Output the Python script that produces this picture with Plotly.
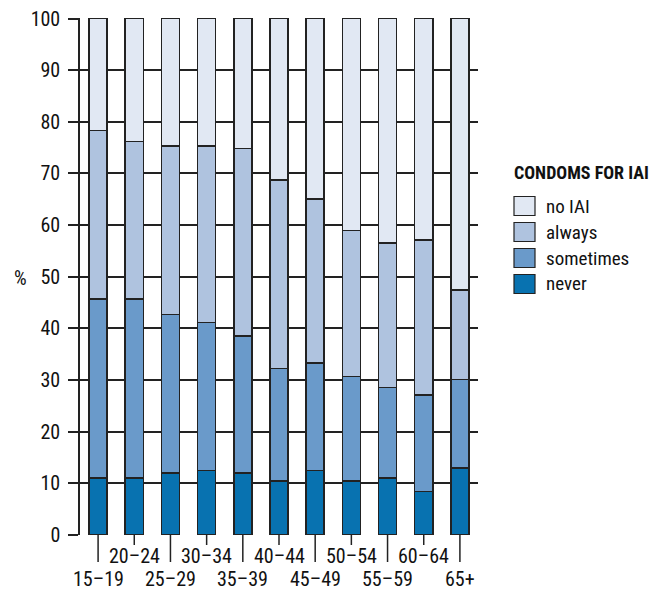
import plotly.graph_objects as go

categories = ["15–19", "20–24", "25–29", "30–34", "35–39", "40–44",
              "45–49", "50–54", "55–59", "60–64", "65+"]
# cumulative tops
never_top = [11.0, 11.0, 12.0, 12.5, 12.0, 10.5, 12.5, 10.5, 11.0, 8.4, 13.0]
sometimes_top = [45.7, 45.7, 42.7, 41.1, 38.5, 32.2, 33.3, 30.7, 28.6, 27.1, 30.1]
always_top = [78.3, 76.2, 75.3, 75.3, 74.8, 68.7, 65.1, 59.0, 56.5, 57.1, 47.4]
total = [100.0] * 11

never = never_top
sometimes = [s - n for s, n in zip(sometimes_top, never_top)]
always = [a - s for a, s in zip(always_top, sometimes_top)]
no_iai = [t - a for t, a in zip(total, always_top)]

series_names = ["never", "sometimes", "always", "no IAI"]
series_values = [never, sometimes, always, no_iai]
series_colors = ["#0872b0", "#6a9aca", "#afc3df", "#e1e8f3"]

y_ticks = [0, 10, 20, 30, 40, 50, 60, 70, 80, 90, 100]
legend_title = "CONDOMS FOR IAI"
y_title = "%"

FONT = "Roboto Condensed, DejaVu Sans Condensed, sans-serif"
INK = "#111111"
LINE = "#222222"

# screen geometry (page has 8px body margin)
OFF = 8
W, H = 663 - OFF, 590 - OFF
PX0, PX1, PY0, PY1 = 80, 478, 18, 535  # plot area in screen px
L, R, T, B = PX0 - OFF, 663 - PX1, PY0 - OFF, 590 - PY1
pw, ph = PX1 - PX0, PY1 - PY0


def px_x(X):
    return (X - PX0) / pw


def px_y(Y):
    return (PY1 - Y) / ph


x_idx = list(range(len(categories)))

fig = go.Figure()
for name, vals, col in zip(series_names, series_values, series_colors):
    fig.add_trace(go.Bar(
        x=x_idx, y=vals, name=name,
        marker=dict(color=col, line=dict(color=LINE, width=1.5)),
        showlegend=False,
    ))

annotations = []
shapes = []
# staggered category labels with long/short ticks
for i, lab in enumerate(categories):
    long_tick = (i % 2 == 0)
    tick_end = 562 if long_tick else 545
    shapes.append(dict(type="line", xref="x", yref="paper",
                       x0=i, x1=i, y0=0, y1=px_y(tick_end),
                       line=dict(color=LINE, width=1.5)))
    label_y = 579 if long_tick else 556
    annotations.append(dict(x=i, y=px_y(label_y), xref="x", yref="paper",
                            text=lab, showarrow=False, xanchor="center",
                            yanchor="middle",
                            font=dict(family=FONT, size=20, color=INK)))

# y-axis title
annotations.append(dict(x=px_x(20), y=px_y(278), xref="paper", yref="paper",
                        text=y_title, showarrow=False, xanchor="center",
                        yanchor="middle",
                        font=dict(family=FONT, size=20, color=INK)))

# legend
annotations.append(dict(x=px_x(512), y=px_y(172), xref="paper", yref="paper",
                        text="<b>" + legend_title + "</b>", showarrow=False,
                        xanchor="left", yanchor="middle",
                        font=dict(family=FONT, size=18, color=INK)))
legend_order = list(reversed(range(len(series_names))))
for row, k in enumerate(legend_order):
    cy = 206 + 26 * row
    shapes.append(dict(type="rect", xref="paper", yref="paper",
                       x0=px_x(514), x1=px_x(535),
                       y0=px_y(cy - 9.5), y1=px_y(cy + 9.5),
                       fillcolor=series_colors[k],
                       line=dict(color=LINE, width=1.2)))
    annotations.append(dict(x=px_x(544), y=px_y(cy), xref="paper", yref="paper",
                            text=series_names[k], showarrow=False,
                            xanchor="left", yanchor="middle",
                            font=dict(family=FONT, size=19, color=INK)))

fig.update_layout(
    width=W, height=H,
    margin=dict(l=L, r=R, t=T, b=B, autoexpand=False),
    barmode="stack", bargap=0.5,
    plot_bgcolor="white", paper_bgcolor="white",
    font=dict(family=FONT, size=20, color=INK),
    annotations=annotations, shapes=shapes,
    xaxis=dict(range=[-0.5, 10.5], showticklabels=False, ticks="",
               showgrid=False, zeroline=False, showline=False,
               fixedrange=True, automargin=False),
    yaxis=dict(range=[0, 100.1], tickvals=y_ticks, ticks="outside", ticklen=10,
               tickwidth=1.5, tickcolor=LINE, showgrid=True,
               gridcolor=LINE, gridwidth=1.5, zeroline=False,
               showline=True, linecolor=LINE, linewidth=1.5,
               ticklabeloverflow="allow", ticklabelstandoff=4,
               tickfont=dict(family=FONT, size=20, color=INK),
               fixedrange=True, automargin=False),
)

fig.write_html("out.html")
